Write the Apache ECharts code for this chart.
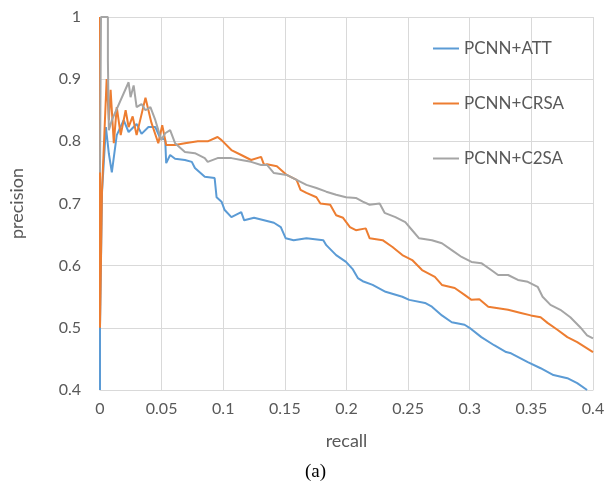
<!DOCTYPE html>
<html>
<head>
	<meta charset="utf-8">
	<title>precision-recall</title>
	<script src="https://cdn.jsdelivr.net/npm/echarts@6/dist/echarts.min.js"></script>
	<style type="text/css">
		html, body { margin: 0; padding: 0; background: #fff; }
	</style>
</head>
<body>
	<div id="eCharts-container" style="width:608px;height:485px"></div>
<script type="text/javascript">
	// series names
	var names = ['PCNN+ATT', 'PCNN+CRSA', 'PCNN+C2SA'];
	// [recall, precision]
	var att = [[0,0.4],[0,0.5],[0.0016,0.717],[0.0048,0.823],[0.0072,0.78],[0.0096,0.75],[0.0136,0.81],[0.0192,0.834],[0.0232,0.815],[0.0297,0.828],[0.0337,0.812],[0.0393,0.823],[0.0449,0.823],[0.0489,0.805],[0.0529,0.803],[0.0537,0.765],[0.0569,0.778],[0.0609,0.772],[0.0689,0.77],[0.0745,0.767],[0.077,0.757],[0.085,0.743],[0.093,0.741],[0.0946,0.71],[0.0986,0.703],[0.101,0.69],[0.1066,0.678],[0.1146,0.686],[0.117,0.673],[0.125,0.677],[0.1331,0.673],[0.1411,0.669],[0.1467,0.662],[0.1507,0.644],[0.1571,0.641],[0.1675,0.644],[0.1812,0.641],[0.1836,0.633],[0.1916,0.617],[0.1996,0.606],[0.2052,0.594],[0.2092,0.58],[0.2132,0.575],[0.2212,0.569],[0.2317,0.558],[0.2453,0.55],[0.2509,0.545],[0.2637,0.54],[0.2693,0.534],[0.2774,0.52],[0.2854,0.509],[0.2958,0.505],[0.2998,0.5],[0.3094,0.485],[0.3198,0.472],[0.3295,0.461],[0.3335,0.459],[0.3471,0.445],[0.3575,0.435],[0.3679,0.424],[0.3792,0.419],[0.3872,0.411],[0.3952,0.4]];
	var crsa = [[0,1.0],[0,0.5],[0.0016,0.72],[0.0054,0.9],[0.0072,0.834],[0.0086,0.883],[0.0112,0.797],[0.0136,0.855],[0.0168,0.81],[0.0208,0.85],[0.0232,0.823],[0.0265,0.84],[0.0297,0.81],[0.0369,0.87],[0.0417,0.83],[0.0473,0.797],[0.0505,0.826],[0.0537,0.794],[0.0609,0.794],[0.0689,0.797],[0.0794,0.8],[0.0874,0.8],[0.0954,0.807],[0.0986,0.802],[0.1066,0.786],[0.1146,0.778],[0.1226,0.77],[0.1307,0.775],[0.1331,0.762],[0.1355,0.763],[0.1435,0.76],[0.1515,0.746],[0.1595,0.738],[0.1627,0.722],[0.1675,0.717],[0.1756,0.71],[0.1788,0.7],[0.1868,0.698],[0.1916,0.681],[0.1972,0.677],[0.2028,0.662],[0.2076,0.657],[0.2156,0.66],[0.2188,0.644],[0.2293,0.641],[0.2373,0.63],[0.2453,0.617],[0.2533,0.609],[0.2613,0.593],[0.2717,0.582],[0.2774,0.569],[0.2878,0.564],[0.2958,0.553],[0.3014,0.545],[0.3078,0.546],[0.315,0.534],[0.3311,0.529],[0.3415,0.524],[0.3495,0.52],[0.3575,0.517],[0.3631,0.508],[0.3711,0.497],[0.3792,0.485],[0.3872,0.477],[0.3936,0.469],[0.4,0.461]];
	var c2sa = [[0,0.75],[0.0008,1.0],[0.0064,1.0],[0.0064,0.93],[0.0072,0.818],[0.0096,0.834],[0.0232,0.895],[0.0248,0.871],[0.0273,0.89],[0.0297,0.855],[0.0337,0.86],[0.0369,0.85],[0.0409,0.855],[0.0449,0.834],[0.0473,0.818],[0.0497,0.802],[0.0529,0.813],[0.0569,0.818],[0.0609,0.797],[0.0689,0.783],[0.077,0.781],[0.085,0.773],[0.0874,0.767],[0.0954,0.773],[0.1066,0.773],[0.1146,0.77],[0.1226,0.767],[0.1307,0.762],[0.1355,0.762],[0.1411,0.749],[0.1515,0.746],[0.1595,0.738],[0.1675,0.73],[0.1756,0.725],[0.1836,0.719],[0.1916,0.714],[0.1996,0.71],[0.2076,0.709],[0.2132,0.703],[0.2188,0.698],[0.2269,0.7],[0.2309,0.685],[0.2397,0.678],[0.2477,0.67],[0.2533,0.657],[0.2589,0.644],[0.2693,0.641],[0.2774,0.636],[0.2854,0.625],[0.2934,0.614],[0.3014,0.606],[0.3094,0.604],[0.3174,0.593],[0.323,0.585],[0.3311,0.585],[0.3391,0.577],[0.3471,0.574],[0.3551,0.566],[0.3591,0.55],[0.3655,0.537],[0.3735,0.529],[0.3816,0.517],[0.3896,0.501],[0.3952,0.488],[0.4,0.483]];
	var colors = ['#5B9BD5', '#ED7D31', '#A5A5A5'];

	var myChart = echarts.init(document.getElementById('eCharts-container'));
	var font = 'Lato, "Liberation Sans", sans-serif';
	var fmt = function (v) { return String(+v.toFixed(2)); };
	var option = {
		animation: false,
		color: colors,
		grid: { left: 94, right: 15, top: 17, bottom: 95 },
		title: {
			text: '(a)', left: 300, top: 458,
			textStyle: { fontFamily: '"Liberation Serif", serif', fontSize: 19, fontWeight: 'normal', color: '#000' }
		},
		legend: {
			data: names, orient: 'vertical', left: 428, top: 33,
			icon: 'rect', itemWidth: 26, itemHeight: 2, itemGap: 34,
			textStyle: { fontFamily: font, fontSize: 17, color: '#595959', lineHeight: 21 }
		},
		xAxis: {
			type: 'value', min: 0, max: 0.4, interval: 0.05,
			name: 'recall', nameLocation: 'middle', nameGap: 42,
			nameTextStyle: { fontFamily: font, fontSize: 18, color: '#595959' },
			axisLine: { show: true, lineStyle: { color: '#D9D9D9' } },
			axisTick: { show: false },
			axisLabel: { formatter: fmt, margin: 11, fontFamily: font, fontSize: 16, color: '#595959' },
			splitLine: { show: true, lineStyle: { color: '#D9D9D9' } }
		},
		yAxis: {
			type: 'value', min: 0.4, max: 1, interval: 0.1,
			name: 'precision', nameLocation: 'middle', nameGap: 74,
			nameTextStyle: { fontFamily: font, fontSize: 18, color: '#595959' },
			axisLine: { show: false },
			axisTick: { show: false },
			axisLabel: { formatter: fmt, margin: 19, fontFamily: font, fontSize: 16, color: '#595959' },
			splitLine: { show: true, lineStyle: { color: '#D9D9D9' } }
		},
		series: []
	};
	var lines = [att, crsa, c2sa];
	for (var i = 0; i < lines.length; i++) {
		option.series.push({
			name: names[i], type: 'line', data: lines[i],
			showSymbol: false, symbol: 'none',
			lineStyle: { width: 2, color: colors[i] }
		});
	}
	myChart.setOption(option);
</script>
</body>
</html>
